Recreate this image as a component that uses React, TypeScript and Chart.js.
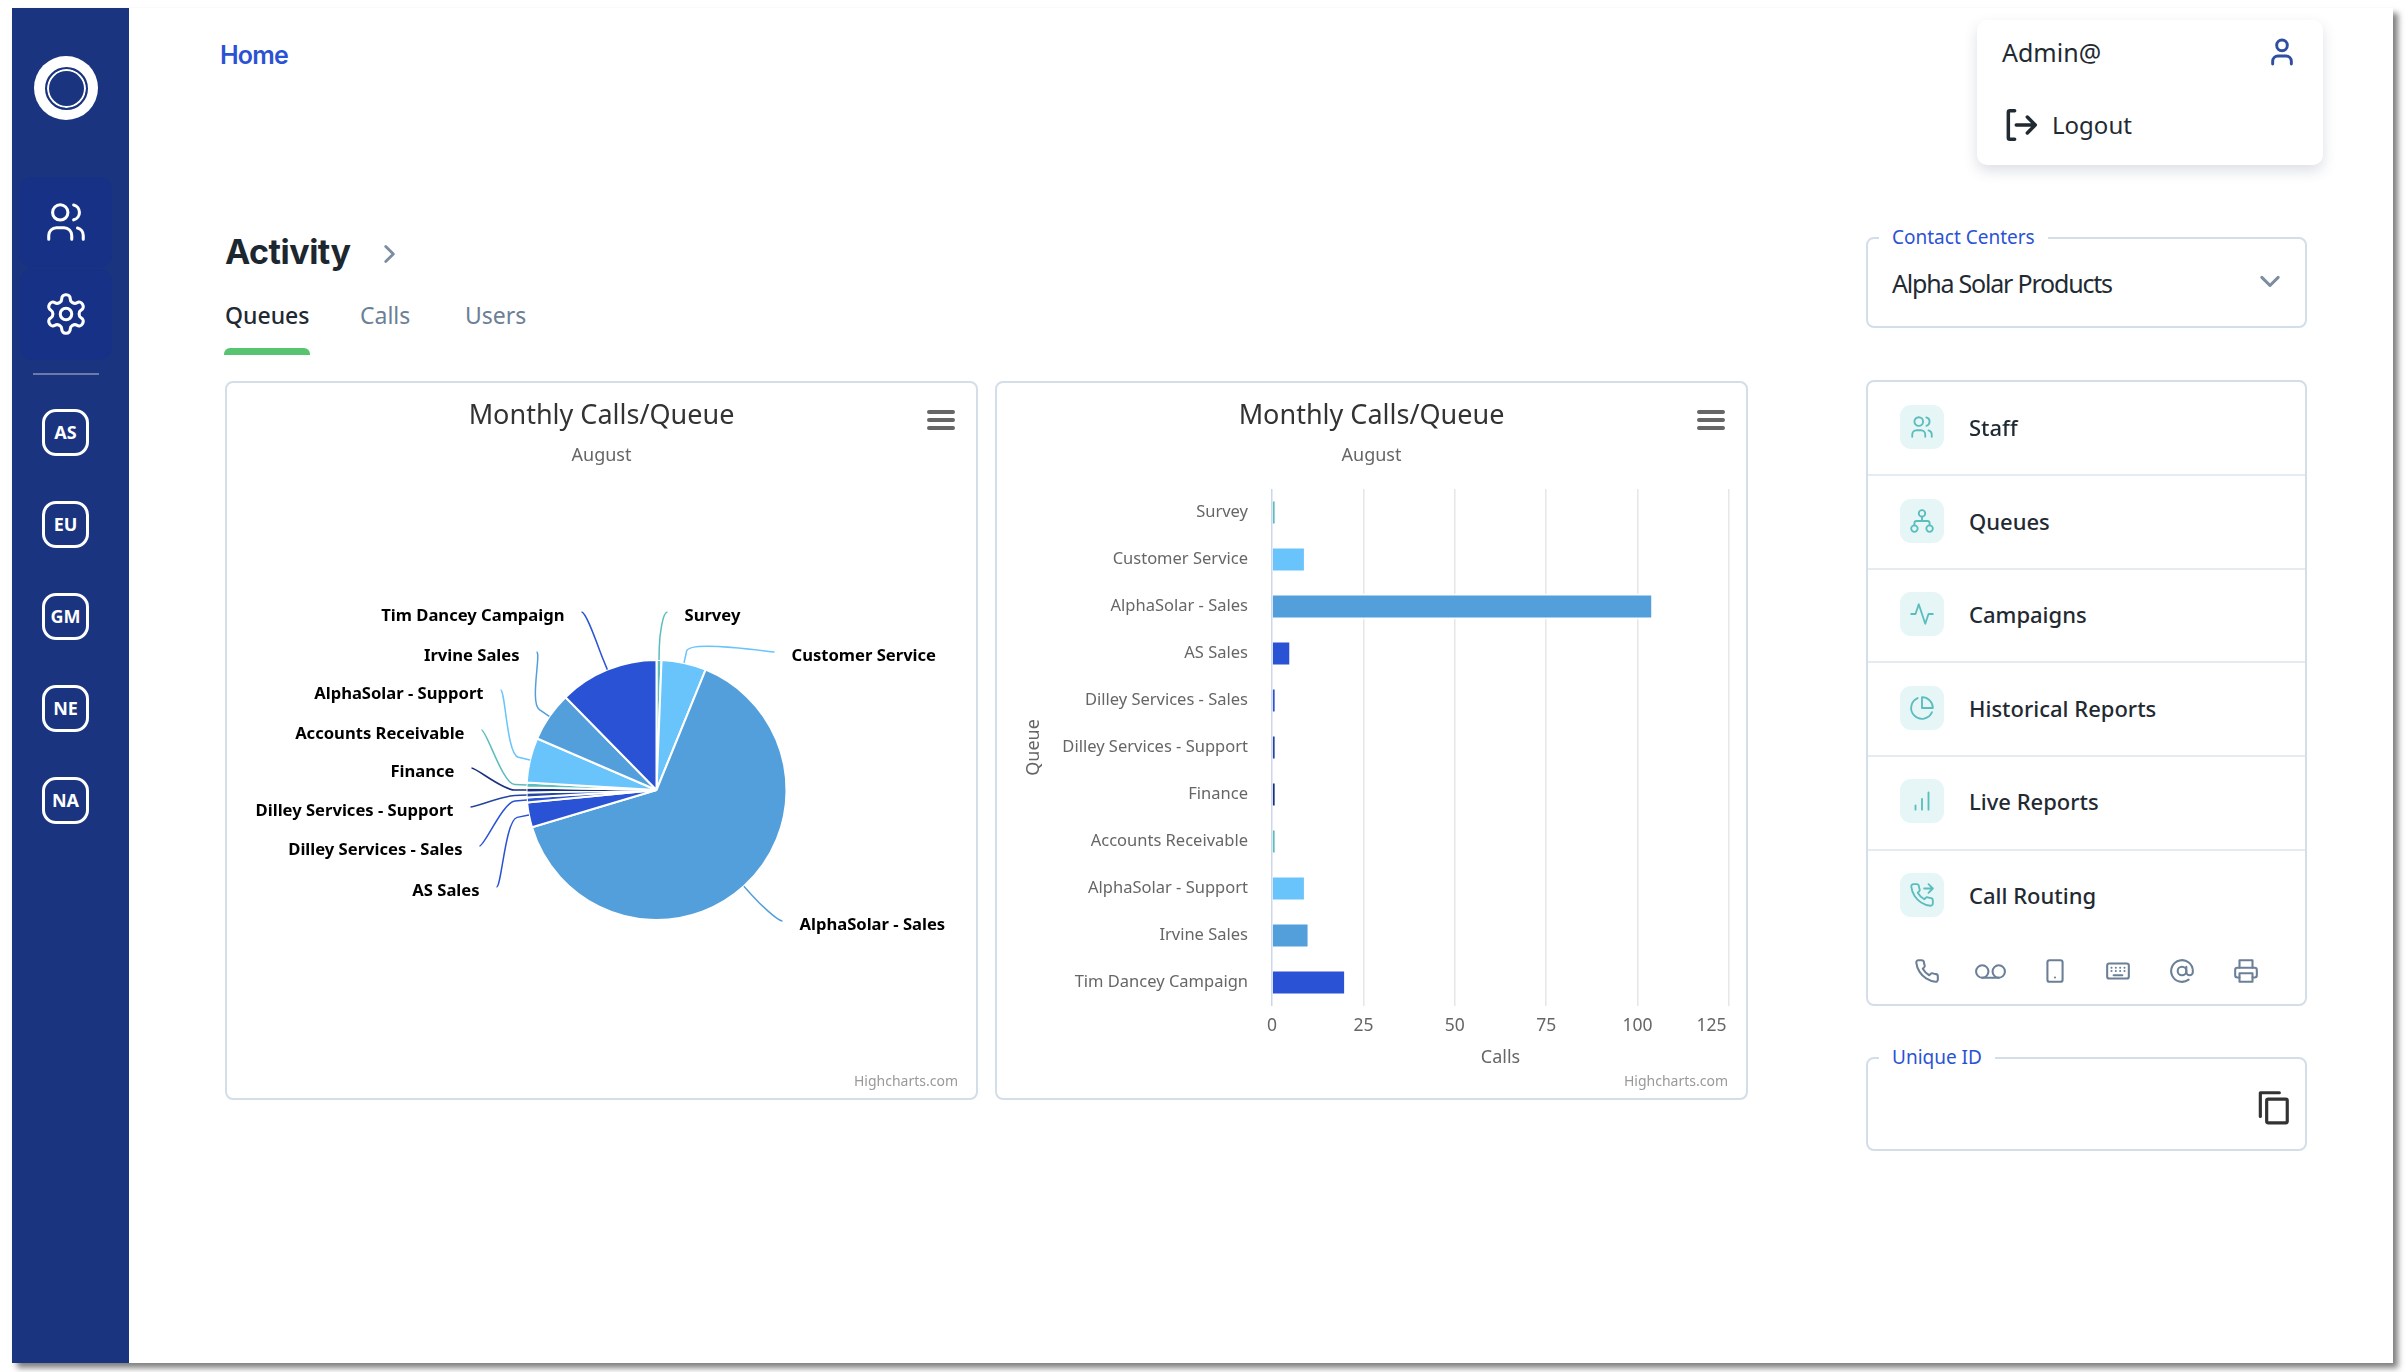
import { useEffect, useRef } from 'react';
import type { CSSProperties, ReactNode } from 'react';
import { Chart, registerables } from 'chart.js';

Chart.register(...registerables);

const FONT = '"Noto Sans", sans-serif';
Chart.defaults.font.family = FONT;

const QUEUES = [
  'Survey',
  'Customer Service',
  'AlphaSolar - Sales',
  'AS Sales',
  'Dilley Services - Sales',
  'Dilley Services - Support',
  'Finance',
  'Accounts Receivable',
  'AlphaSolar - Support',
  'Irvine Sales',
  'Tim Dancey Campaign',
];
const CALLS = [1, 9, 104, 5, 1, 1, 1, 1, 9, 10, 20];
const CALL_TICKS = [0, 25, 50, 75, 100, 125];

const PALETTE = ['#5BBDBD', '#69C4FB', '#539FDC', '#2A52D4', '#2A52D4', '#24459F', '#19307F'];
const sliceColors = QUEUES.map((_, i) => PALETTE[i % PALETTE.length]);

const CARD_W = 753;
const CARD_H = 719;

// where each pie label sits, relative to the pie centre (near edge of text, middle of text)
const LABEL_SPOTS: [number, number][] = [
  [28, -174],
  [135, -134],
  [143, 135],
  [-177, 101],
  [-194, 60],
  [-203, 21],
  [-202, -18],
  [-192, -56],
  [-173, -96],
  [-137, -134],
  [-92, -174],
];

// same soft connector shape highcharts draws
const pieLabels = {
  id: 'pieLabels',
  afterDatasetsDraw(chart: Chart) {
    const { ctx } = chart;
    const arcs = chart.getDatasetMeta(0).data as any[];
    ctx.save();
    ctx.font = `bold 16.6px ${FONT}`;
    ctx.textBaseline = 'middle';
    arcs.forEach((arc, i) => {
      const [dx, dy] = LABEL_SPOTS[i];
      const right = dx > 0;
      const mid = (arc.startAngle + arc.endAngle) / 2;
      const tx = arc.x + Math.cos(mid) * arc.outerRadius;
      const ty = arc.y + Math.sin(mid) * arc.outerRadius;
      const bx = arc.x + Math.cos(mid) * (arc.outerRadius + 12);
      const by = arc.y + Math.sin(mid) * (arc.outerRadius + 12);
      const lx = arc.x + dx + (right ? -17 : 17);
      const ly = arc.y + dy - 4;
      ctx.beginPath();
      ctx.moveTo(lx, ly);
      ctx.bezierCurveTo(lx + (right ? -5 : 5), ly, 2 * bx - tx, 2 * by - ty, bx, by);
      ctx.lineTo(tx, ty);
      ctx.strokeStyle = sliceColors[i];
      ctx.lineWidth = 1.5;
      ctx.stroke();
      ctx.fillStyle = '#000';
      ctx.textAlign = right ? 'left' : 'right';
      ctx.fillText(QUEUES[i], arc.x + dx, arc.y + dy);
    });
    ctx.restore();
  },
};

function PieChart() {
  const ref = useRef<HTMLCanvasElement>(null);
  useEffect(() => {
    if (!ref.current) return;
    const chart = new Chart(ref.current, {
      type: 'pie',
      data: {
        labels: QUEUES,
        datasets: [
          {
            data: CALLS,
            backgroundColor: sliceColors,
            borderColor: '#fff',
            borderWidth: 2,
            radius: 130,
          },
        ],
      },
      options: {
        responsive: false,
        animation: false,
        layout: { padding: { left: 110, top: 100, bottom: 1 } },
        plugins: { legend: { display: false }, tooltip: { enabled: false } },
      },
      plugins: [pieLabels],
    });
    return () => chart.destroy();
  }, []);
  return <canvas ref={ref} width={CARD_W} height={CARD_H} style={canvasStyle} />;
}

function BarChart() {
  const ref = useRef<HTMLCanvasElement>(null);
  useEffect(() => {
    if (!ref.current) return;
    const chart = new Chart(ref.current, {
      type: 'bar',
      data: {
        labels: QUEUES,
        datasets: [
          {
            data: CALLS,
            backgroundColor: sliceColors,
            borderColor: '#fff',
            borderWidth: { top: 2, bottom: 2, right: 1, left: 0 },
            barPercentage: 0.55,
            categoryPercentage: 1,
          },
        ],
      },
      options: {
        indexAxis: 'y',
        responsive: false,
        animation: false,
        layout: { padding: { top: 108, right: 19 } },
        plugins: { legend: { display: false }, tooltip: { enabled: false } },
        scales: {
          x: {
            min: 0,
            max: 125,
            afterBuildTicks: (s: any) => {
              s.ticks = CALL_TICKS.map((value) => ({ value }));
            },
            afterFit: (s: any) => {
              s.paddingLeft = 0;
              s.paddingRight = 0;
              s.height = CARD_H - 625;
            },
            border: { display: false },
            grid: {
              drawTicks: false,
              lineWidth: 1.5,
              color: (c: any) => (c.tick.value === 0 ? '#ccd6eb' : '#e6e6e6'),
            },
            ticks: {
              padding: 10,
              color: '#666',
              font: { size: 17.5 },
              maxRotation: 0,
              // highcharts pulls the last label inside the plot
              callback: (v: any) => (v === 125 ? '125\u2003\u2003' : String(v)),
            },
            title: {
              display: true,
              text: 'Calls',
              color: '#666',
              font: { size: 18 },
              padding: { top: 0, bottom: 31 },
            },
          },
          y: {
            afterFit: (s: any) => {
              s.width = 277;
            },
            border: { display: false },
            grid: { display: false },
            ticks: { padding: 16, color: '#666', font: { size: 16.5 }, autoSkip: false },
            title: {
              display: true,
              text: 'Queue',
              color: '#666',
              font: { size: 18 },
              padding: { top: 28, bottom: 0 },
            },
          },
        },
      },
    });
    return () => chart.destroy();
  }, []);
  return <canvas ref={ref} width={CARD_W} height={CARD_H} style={canvasStyle} />;
}

const canvasStyle: CSSProperties = { position: 'absolute', left: 0, top: 0 };

function Text({
  x,
  y,
  size,
  color = '#1f2a33',
  weight = 400,
  center,
  font = FONT,
  spacing,
  children,
}: {
  x: number;
  y: number;
  size: number;
  color?: string;
  weight?: number;
  center?: boolean;
  font?: string;
  spacing?: number;
  children: ReactNode;
}) {
  return (
    <div
      style={{
        position: 'absolute',
        left: x,
        top: y,
        transform: center ? 'translate(-50%, -50%)' : 'translateY(-50%)',
        fontFamily: font,
        fontSize: size,
        fontWeight: weight,
        color,
        letterSpacing: spacing,
        whiteSpace: 'nowrap',
        lineHeight: 1.2,
      }}
    >
      {children}
    </div>
  );
}

function Icon({
  x,
  y,
  size,
  color,
  stroke = 2,
  children,
}: {
  x: number;
  y: number;
  size: number;
  color: string;
  stroke?: number;
  children: ReactNode;
}) {
  return (
    <svg
      viewBox="0 0 24 24"
      width={size}
      height={size}
      fill="none"
      stroke={color}
      strokeWidth={stroke}
      strokeLinecap="round"
      strokeLinejoin="round"
      style={{ position: 'absolute', left: x - size / 2, top: y - size / 2 }}
    >
      {children}
    </svg>
  );
}

const usersGlyph = (
  <>
    <circle cx="9" cy="7" r="4" />
    <path d="M3 21v-2a4 4 0 0 1 4-4h4a4 4 0 0 1 4 4v2" />
    <path d="M16 3.13a4 4 0 0 1 0 7.75" />
    <path d="M21 21v-2a4 4 0 0 0-3-3.85" />
  </>
);
const gearGlyph = (
  <>
    <path d="M12.22 2h-.44a2 2 0 0 0-2 2v.18a2 2 0 0 1-1 1.73l-.43.25a2 2 0 0 1-2 0l-.15-.08a2 2 0 0 0-2.73.73l-.22.38a2 2 0 0 0 .73 2.73l.15.1a2 2 0 0 1 1 1.72v.51a2 2 0 0 1-1 1.74l-.15.09a2 2 0 0 0-.73 2.73l.22.38a2 2 0 0 0 2.73.73l.15-.08a2 2 0 0 1 2 0l.43.25a2 2 0 0 1 1 1.73V20a2 2 0 0 0 2 2h.44a2 2 0 0 0 2-2v-.18a2 2 0 0 1 1-1.73l.43-.25a2 2 0 0 1 2 0l.15.08a2 2 0 0 0 2.73-.73l.22-.39a2 2 0 0 0-.73-2.73l-.15-.08a2 2 0 0 1-1-1.74v-.5a2 2 0 0 1 1-1.74l.15-.09a2 2 0 0 0 .73-2.73l-.22-.38a2 2 0 0 0-2.73-.73l-.15.08a2 2 0 0 1-2 0l-.43-.25a2 2 0 0 1-1-1.73V4a2 2 0 0 0-2-2z" />
    <circle cx="12" cy="12" r="3" />
  </>
);
const phonePath =
  'M22 16.92v3a2 2 0 0 1-2.18 2 19.79 19.79 0 0 1-8.63-3.07 19.5 19.5 0 0 1-6-6 19.79 19.79 0 0 1-3.07-8.67A2 2 0 0 1 4.11 2h3a2 2 0 0 1 2 1.72 12.84 12.84 0 0 0 .7 2.81 2 2 0 0 1-.45 2.11L8.09 9.91a16 16 0 0 0 6 6l1.27-1.27a2 2 0 0 1 2.11-.45 12.84 12.84 0 0 0 2.81.7A2 2 0 0 1 22 16.92z';

const BADGES = ['AS', 'EU', 'GM', 'NE', 'NA'];
const MENU_ROWS: [string, ReactNode][] = [
  ['Staff', usersGlyph],
  [
    'Queues',
    <>
      <rect x="9" y="2" width="6" height="6" rx="3" />
      <circle cx="5" cy="19" r="3" />
      <circle cx="19" cy="19" r="3" />
      <path d="M5 16v-2a2 2 0 0 1 2-2h10a2 2 0 0 1 2 2v2M12 8v4" />
    </>,
  ],
  ['Campaigns', <path d="M22 12h-4l-3 9L9 3l-3 9H2" />],
  [
    'Historical Reports',
    <>
      <path d="M21.21 15.89A10 10 0 1 1 8 2.83" />
      <path d="M22 12A10 10 0 0 0 12 2v10z" />
    </>,
  ],
  ['Live Reports', <path d="M6 20v-4M12 20V10M18 20V4" />],
  [
    'Call Routing',
    <>
      <path d={phonePath} />
      <path d="M14 6h8M18 2l4 4-4 4" />
    </>,
  ],
];
const TOOL_GLYPHS: ReactNode[] = [
  <path d={phonePath} />,
  <>
    <circle cx="6" cy="12" r="4.5" />
    <circle cx="18" cy="12" r="4.5" />
    <path d="M6 16.5h12" />
  </>,
  <>
    <rect x="5" y="2" width="14" height="20" rx="2" />
    <path d="M12 18h.01" />
  </>,
  <>
    <rect x="2" y="5" width="20" height="14" rx="2" />
    <path d="M6 9h.01M10 9h.01M14 9h.01M18 9h.01M6 12h.01M10 12h.01M14 12h.01M18 12h.01M8 16h8" />
  </>,
  <>
    <circle cx="12" cy="12" r="4" />
    <path d="M16 8v5a3 3 0 0 0 6 0v-1a10 10 0 1 0-3.92 7.94" />
  </>,
  <>
    <path d="M6 9V2h12v7" />
    <path d="M6 18H4a2 2 0 0 1-2-2v-5a2 2 0 0 1 2-2h16a2 2 0 0 1 2 2v5a2 2 0 0 1-2 2h-2" />
    <rect x="6" y="14" width="12" height="8" />
  </>,
];

const boxStyle = (x: number, y: number, w: number, h: number): CSSProperties => ({
  position: 'absolute',
  left: x,
  top: y,
  width: w,
  height: h,
  boxSizing: 'border-box',
  border: '2px solid #d3dee9',
  borderRadius: 8,
  background: '#fff',
});

function Card({ x, children }: { x: number; children: ReactNode }) {
  return (
    <>
      <div style={boxStyle(x, 381, CARD_W, CARD_H)} />
      <div style={{ position: 'absolute', left: x, top: 381, width: CARD_W, height: CARD_H }}>
        {children}
        <Text x={CARD_W / 2} y={33} size={27} color="#333" center>
          Monthly Calls/Queue
        </Text>
        <Text x={CARD_W / 2} y={74} size={18} color="#666" center>
          August
        </Text>
        <svg
          width={28}
          height={24}
          style={{ position: 'absolute', left: 702, top: 27 }}
          stroke="#666"
          strokeWidth={4}
          strokeLinecap="round"
        >
          <path d="M2 4h24M2 12h24M2 20h24" />
        </svg>
        <div
          style={{
            position: 'absolute',
            right: 20,
            top: 691,
            fontFamily: FONT,
            fontSize: 14,
            color: '#999',
            lineHeight: '18px',
          }}
        >
          Highcharts.com
        </div>
      </div>
    </>
  );
}

function Fieldset({ y, h, label, gap }: { y: number; h: number; label: string; gap: number }) {
  return (
    <>
      <div style={boxStyle(1866, y, 441, h)} />
      <div
        style={{ position: 'absolute', left: 1879, top: y - 2, width: gap, height: 4, background: '#fff' }}
      />
      <Text x={1892} y={y} size={19} color="#2b52d4">
        {label}
      </Text>
    </>
  );
}

export default function App() {
  return (
    <div style={{ position: 'absolute', left: 0, top: 0, width: 2406, height: 1372, background: '#fff', overflow: 'hidden' }}>
      <div
        style={{
          position: 'absolute',
          left: 12,
          top: 8,
          width: 2381,
          height: 1355,
          background: '#fff',
          boxShadow: '5px 5px 6px rgba(0,0,0,0.5)',
        }}
      />
      <div style={{ position: 'absolute', left: 12, top: 8, width: 117, height: 1355, background: '#1a347f' }} />
      <div style={{ position: 'absolute', left: 34, top: 56, width: 64, height: 64, borderRadius: 32, background: '#fff' }} />
      <div
        style={{
          position: 'absolute',
          left: 44.5,
          top: 66.5,
          width: 43,
          height: 43,
          borderRadius: 22,
          boxSizing: 'border-box',
          background: '#1a347f',
          border: '2px solid #1a347f',
          boxShadow: 'inset 0 0 0 2px #fff',
        }}
      />
      <div style={{ position: 'absolute', left: 20, top: 177, width: 92, height: 91, borderRadius: 12, background: '#163185' }} />
      <div style={{ position: 'absolute', left: 20, top: 269, width: 92, height: 91, borderRadius: 12, background: '#163185' }} />
      <Icon x={66} y={222} size={46} color="#fff" stroke={1.6}>
        {usersGlyph}
      </Icon>
      <Icon x={66} y={314} size={46} color="#fff" stroke={1.6}>
        {gearGlyph}
      </Icon>
      <div style={{ position: 'absolute', left: 33, top: 373, width: 66, height: 2, background: 'rgba(255,255,255,0.35)' }} />
      {BADGES.map((b, i) => (
        <div
          key={b}
          style={{
            position: 'absolute',
            left: 42,
            top: 409 + i * 92,
            width: 47,
            height: 47,
            boxSizing: 'border-box',
            border: '3px solid #fff',
            borderRadius: 14,
            color: '#fff',
            fontFamily: FONT,
            fontWeight: 700,
            fontSize: 18,
            lineHeight: '41px',
            textAlign: 'center',
          }}
        >
          {b}
        </div>
      ))}

      <Text x={220} y={55} size={25} color="#2b52d4" weight={600} font="Inter, sans-serif" spacing={-0.8}>
        Home
      </Text>
      <Text x={225} y={252} size={34} color="#1d2730" weight={700} font="Inter, sans-serif" spacing={-0.5}>
        Activity
      </Text>
      <Icon x={389} y={254} size={26} color="#7c8ca1" stroke={2.6}>
        <path d="M9 5l7 7-7 7" />
      </Icon>
      <Text x={225} y={316} size={23} weight={500}>
        Queues
      </Text>
      <Text x={360} y={316} size={23} color="#6b7f96">
        Calls
      </Text>
      <Text x={465} y={316} size={23} color="#6b7f96">
        Users
      </Text>
      <div style={{ position: 'absolute', left: 224, top: 348, width: 86, height: 7, background: '#58c472', borderRadius: '6px 6px 0 0' }} />

      <Card x={225}>
        <PieChart />
      </Card>
      <Card x={995}>
        <BarChart />
      </Card>

      <div
        style={{
          position: 'absolute',
          left: 1977,
          top: 20,
          width: 346,
          height: 145,
          background: '#fff',
          borderRadius: 10,
          boxShadow: '0 6px 14px rgba(60,80,110,0.18)',
        }}
      />
      <Text x={2002} y={52} size={25}>
        Admin@
      </Text>
      <Icon x={2282} y={52} size={32} color="#2f4ea0" stroke={2.2}>
        <circle cx="12" cy="7" r="4" />
        <path d="M5 21v-2a4 4 0 0 1 4-4h6a4 4 0 0 1 4 4v2" />
      </Icon>
      <Icon x={2021} y={125} size={38} color="#1f2a33" stroke={2.2}>
        <path d="M8 3H5a1 1 0 0 0-1 1v16a1 1 0 0 0 1 1h3M9 12h12M16 7l5 5-5 5" />
      </Icon>
      <Text x={2052} y={125} size={24}>
        Logout
      </Text>

      <Fieldset y={237} h={91} label="Contact Centers" gap={169} />
      <Text x={1892} y={283} size={25} spacing={-1.2}>
        Alpha Solar Products
      </Text>
      <Icon x={2270} y={282} size={28} color="#7c8ca1" stroke={2.6}>
        <path d="M5 8l7 7 7-7" />
      </Icon>

      <div style={boxStyle(1866, 380, 441, 626)} />
      {MENU_ROWS.map(([name, glyph], i) => (
        <div key={name}>
          {i > 0 && (
            <div style={{ position: 'absolute', left: 1868, top: 380 + 93.8 * i, width: 437, height: 2, background: '#e4ebf1' }} />
          )}
          <div
            style={{
              position: 'absolute',
              left: 1900,
              top: 405 + 93.6 * i,
              width: 44,
              height: 44,
              borderRadius: 11,
              background: '#e6f6f6',
            }}
          />
          <Icon x={1922} y={427 + 93.6 * i} size={26} color="#5bbdbd" stroke={1.7}>
            {glyph}
          </Icon>
          <Text x={1969} y={427 + 93.6 * i} size={22} weight={500}>
            {name}
          </Text>
        </div>
      ))}
      {TOOL_GLYPHS.map((g, i) => (
        <Icon key={i} x={1927 + i * 63.8} y={971} size={i === 1 ? 33 : 26} color="#6b7f96" stroke={i === 1 ? 1.5 : 1.9}>
          {g}
        </Icon>
      ))}

      <Fieldset y={1057} h={94} label="Unique ID" gap={116} />
      <Icon x={2273} y={1107} size={38} color="#333" stroke={2}>
        <path d="M4 18V3h12" />
        <rect x="8" y="7" width="13" height="15" rx="1" />
      </Icon>
    </div>
  );
}
